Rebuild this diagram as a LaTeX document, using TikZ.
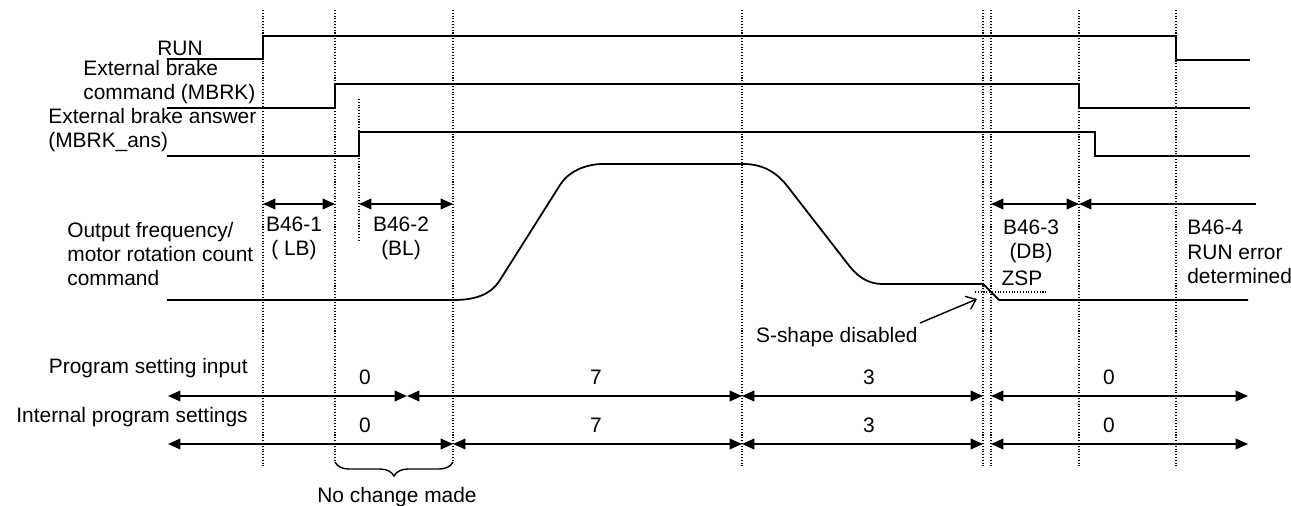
\documentclass[tikz,border=0pt]{standalone}
\usepackage{fontspec}
\setmainfont{Liberation Sans}
\usetikzlibrary{arrows.meta,decorations.pathreplacing}

\begin{document}
\begin{tikzpicture}[x=0.02cm,y=-0.02cm]
\tikzstyle{t}=[inner sep=0pt,font=\fontsize{11.9}{13.8}\selectfont]
\tikzstyle{sig}=[line width=1pt]
\tikzstyle{tl}=[densely dotted,line width=0.6pt]
\tikzstyle{dim}=[line width=1pt,{Triangle[length=7pt,width=6pt]}-{Triangle[length=7pt,width=6pt]}]
   \useasboundingbox (0,0) rectangle (1291,506);

   % time marks
   \draw [tl] (263,10) -- (263,466) ;
   \draw [tl] (335,10) -- (335,462) ;
   \draw [tl] (359,99) -- (359,242) ;
   \draw [tl] (453,10) -- (453,462) ;
   \draw [tl] (742,10) -- (742,466) ;
   \draw [tl] (983,10) -- (983,466) ;
   \draw [tl] (991,10) -- (991,466) ;
   \draw [tl] (1079,10) -- (1079,466) ;
   \draw [tl] (1176,10) -- (1176,466) ;

   % signals
   \draw (203,48) node (run) [t,anchor=east] {RUN};
   \draw (83,82) node (mbrk) [t,anchor=west,align=left] {External brake\\command (MBRK)};
   \draw (48,130) node (mbrkans) [t,anchor=west,align=left] {External brake answer\\(MBRK\_ans)};
   \draw (67,254) node (freq) [t,anchor=west,align=left] {Output frequency/\\motor rotation count\\command};
   \draw [sig] (167,59) -- (263,59) -- (263,36) -- (1176,36) -- (1176,60) -- (1250,60) ;
   \draw [sig] (167,108) -- (335,108) -- (335,84) -- (1079,84) -- (1079,108) -- (1250,108) ;
   \draw [sig] (167,156) -- (359,156) -- (359,132) -- (1095,132) -- (1095,156) -- (1250,156) ;
   \draw [sig] (167,300) -- (453,300) .. controls (473,300) and (490,296) .. (500,280)
      -- (560,185) .. controls (568,172) and (585,164) .. (603,164) -- (743,164)
      .. controls (765,164) and (778,174) .. (788,187) -- (847,263)
      .. controls (856,275) and (866,284) .. (883,284) -- (983,284) -- (999,300) -- (1248,300) ;
   \draw [tl] (975,292) -- (1046,292) ;
   \draw (1022,278) node (zsp) [t] {ZSP};

   % B46 times
   \coordinate (c1) at (263,204);
   \coordinate (c2) at (335,204);
   \coordinate (c3) at (359,204);
   \coordinate (c4) at (453,204);
   \coordinate (c5) at (991,204);
   \coordinate (c6) at (1079,204);
   \coordinate (c7) at (1256,204);
   \path [draw,dim] (c1) -- (c2) ;
   \path [draw,dim] (c3) -- (c4) ;
   \path [draw,dim] (c5) -- (c6) ;
   \path [draw,line width=1pt,{Triangle[length=7pt,width=6pt]}-] (c6) -- (c7) ;
   \draw (294,238) node (b1) [t,align=center] {B46-1\\( LB)};
   \draw (401,238) node (b2) [t,align=center] {B46-2\\(BL)};
   \draw (1031,241) node (b3) [t,align=center] {B46-3\\(DB)};
   \draw (1187,252) node (b4) [t,anchor=west,align=left] {B46-4\\RUN error\\determined};

   \draw (918,337) node (sd) [t,anchor=east] {S-shape disabled};
   \coordinate (sd0) at (920,323);
   \coordinate (sd1) at (977,299);
   \path [draw,line width=0.8pt,-{Straight Barb[length=5pt,width=8pt]}] (sd0) -- (sd1) ;

   % program settings
   \draw (248,368) node (pin) [t,anchor=east] {Program setting input};
   \draw (248,417) node (pint) [t,anchor=east] {Internal program settings};
   \coordinate (a0) at (168,396);
   \coordinate (a1) at (407,396);
   \coordinate (a2) at (742,396);
   \coordinate (a3) at (983,396);
   \coordinate (a4) at (991,396);
   \coordinate (a5) at (1248,396);
   \coordinate (b0) at (168,444);
   \coordinate (b1) at (453,444);
   \coordinate (b2) at (742,444);
   \coordinate (b3) at (983,444);
   \coordinate (b4) at (991,444);
   \coordinate (b5) at (1248,444);
   \path [draw,dim] (a0) -- (a1) ;
   \path [draw,dim] (a1) -- (a2) ;
   \path [draw,dim] (a2) -- (a3) ;
   \path [draw,dim] (a4) -- (a5) ;
   \path [draw,dim] (b0) -- (b1) ;
   \path [draw,dim] (b1) -- (b2) ;
   \path [draw,dim] (b2) -- (b3) ;
   \path [draw,dim] (b4) -- (b5) ;
   \draw (365,377) node (p1) [t] {0};
   \draw (596,377) node (p2) [t] {7};
   \draw (869,377) node (p3) [t] {3};
   \draw (1109,377) node (p4) [t] {0};
   \draw (365,425) node (q1) [t] {0};
   \draw (596,425) node (q2) [t] {7};
   \draw (869,425) node (q3) [t] {3};
   \draw (1109,425) node (q4) [t] {0};

   \draw [line width=0.8pt,decorate,decoration={brace,amplitude=8pt}] (453,462) -- (335,462) ;
   \draw (397,497) node (nc) [t] {No change made};
\end{tikzpicture}
\end{document}
